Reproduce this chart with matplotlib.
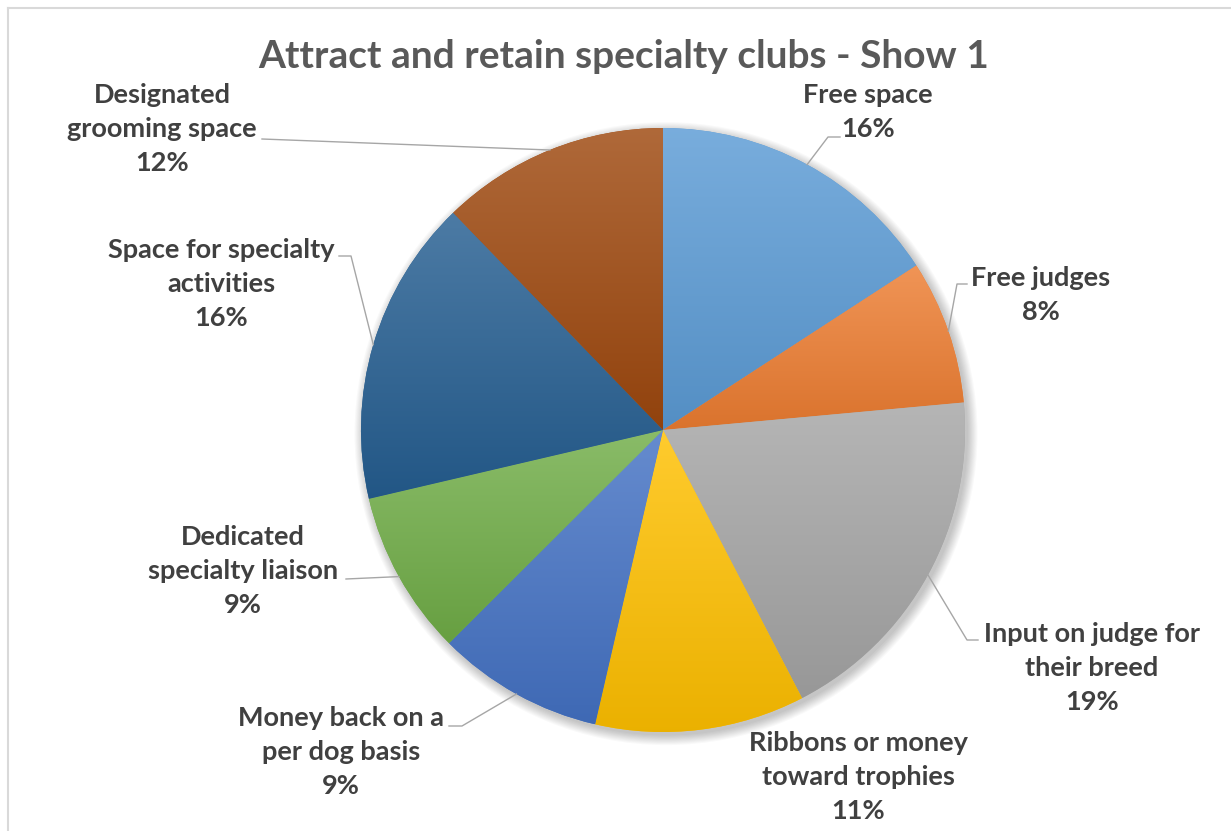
import numpy as np
import matplotlib.pyplot as plt
from matplotlib.colors import to_rgb
from matplotlib.patches import Circle
from matplotlib.lines import Line2D

plt.rcParams['font.family'] = ['Lato', 'DejaVu Sans']

categories = ["Free space", "Free judges", "Input on judge for\ntheir breed",
              "Ribbons or money\ntoward trophies", "Money back on a\nper dog basis",
              "Dedicated\nspecialty liaison", "Space for specialty\nactivities",
              "Designated\ngrooming space"]
shares = [15.8, 7.7, 18.8, 11.2, 8.9, 8.8, 16.4, 12.2]
colors = ["#5B9BD5", "#ED7D31", "#A5A5A5", "#FFC000",
          "#4472C4", "#70AD47", "#255E91", "#9E480E"]

# layout in pixels
W, H = 1231, 831
CX, CY, R = 663, 430, 302
label_pos = [(868, 112), (1041, 295), (1092, 668), (858, 777),
             (341, 752), (243, 571), (221, 284), (162, 129)]
leader_pts = [[(840, 137), (828, 137)], [(967, 284), (957, 284)],
              [(978, 640), (967, 640)], None,
              [(449, 726), (462, 726)], [(346, 579)],
              [(339, 256), (351, 256)], [(262, 139)]]


def px(x, y):
    return (x - CX) / R, (CY - y) / R


fig = plt.figure(figsize=(W / 100, H / 100), dpi=100)
ax = fig.add_axes([0, 0, 1, 1])

# soft shadow
for i in range(10):
    ax.add_patch(Circle((0.01, -0.012), 1 + 0.0035 * i, color='black',
                        alpha=0.022, lw=0, zorder=1))

wedges, _ = ax.pie(shares, colors=colors, startangle=90, counterclock=False,
                   radius=1, wedgeprops=dict(linewidth=0, zorder=2))

for w, c in zip(wedges, colors):
    base = np.array(to_rgb(c))
    top = base + (1 - base) * 0.18
    bot = base * 0.92
    t = np.linspace(0, 1, 256)[:, None, None]
    grad = top * (1 - t) + bot * t
    v = w.get_path().vertices
    im = ax.imshow(grad, extent=(v[:, 0].min(), v[:, 0].max(), v[:, 1].min(), v[:, 1].max()),
                   origin='upper', aspect='auto', zorder=3, interpolation='bilinear')
    im.set_clip_path(w)

total = sum(shares)
cum = 0
for name, val, pos, pts in zip(categories, shares, label_pos, leader_pts):
    mid = 90 - (cum + val / 2) / total * 360
    cum += val
    if pts is not None:
        xs = [px(*p)[0] for p in pts] + [np.cos(np.radians(mid))]
        ys = [px(*p)[1] for p in pts] + [np.sin(np.radians(mid))]
        ax.plot(xs, ys, color='#A6A6A6', lw=1.0, zorder=4)
    ax.text(*px(*pos), f"{name}\n{val:.0f}%", ha='center', va='center',
            multialignment='center', fontsize=19.5, fontweight='bold',
            color='#404040', linespacing=1.5, zorder=5)

ax.text(*px(624, 57), "Attract and retain specialty clubs - Show 1", ha='center',
        va='center', fontsize=28, fontweight='bold', color='#595959')

ax.set_xlim(-CX / R, (W - CX) / R)
ax.set_ylim((CY - H) / R, CY / R)
ax.set_aspect('auto')
ax.axis('off')

# chart border (left and top edges visible)
fig.add_artist(Line2D([8 / W, 8 / W], [0, 1 - 8 / H], color='#D9D9D9', lw=1.5))
fig.add_artist(Line2D([8 / W, 1], [1 - 8 / H, 1 - 8 / H], color='#D9D9D9', lw=1.5))

fig.savefig("out.png", dpi=100)
